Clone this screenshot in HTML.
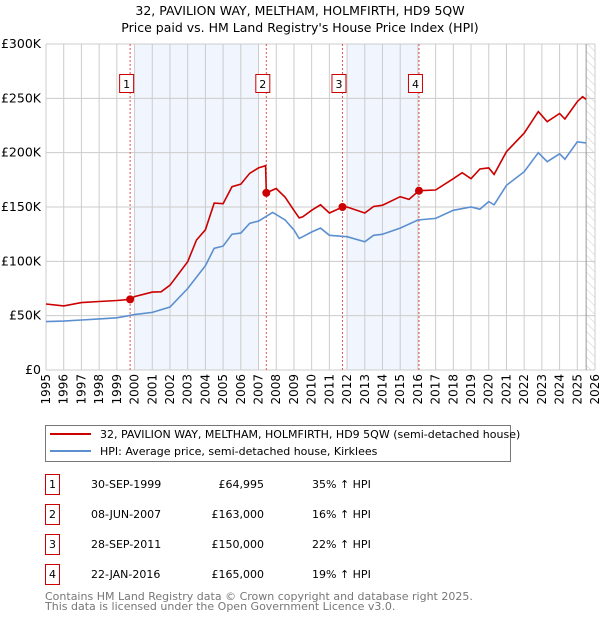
<!DOCTYPE html>
<html><head><meta charset="utf-8"><style>
body{margin:0;background:#fff;font-family:"DejaVu Sans","Liberation Sans",sans-serif;}
svg text{font-family:"DejaVu Sans","Liberation Sans",sans-serif;}
</style></head><body>
<svg id="chart" width="600" height="620" xmlns="http://www.w3.org/2000/svg">
<defs><pattern id="hatch" width="6" height="6" patternUnits="userSpaceOnUse" patternTransform="rotate(-45)"><line x1="0" y1="0" x2="0" y2="6" stroke="#ccc" stroke-width="1"/></pattern></defs>
<text x="300" y="15" text-anchor="middle" font-size="12.5">32, PAVILION WAY, MELTHAM, HOLMFIRTH, HD9 5QW</text>
<text x="300" y="32" text-anchor="middle" font-size="12.5">Price paid vs. HM Land Registry's House Price Index (HPI)</text>
<g id="plot"></g>
<g>
<rect x="45.5" y="425.5" width="465" height="36" fill="#fff" stroke="#777"/>
<line x1="50" y1="434" x2="91" y2="434" stroke="#cc0000" stroke-width="2"/>
<text x="100" y="438" font-size="11">32, PAVILION WAY, MELTHAM, HOLMFIRTH, HD9 5QW (semi-detached house)</text>
<line x1="50" y1="451" x2="91" y2="451" stroke="#5b8fd0" stroke-width="2"/>
<text x="100" y="455" font-size="11">HPI: Average price, semi-detached house, Kirklees</text>
</g>
<g id="table"></g>
<text x="45" y="600" font-size="11" fill="#777">Contains HM Land Registry data © Crown copyright and database right 2025.</text>
<text x="45" y="610" font-size="11" fill="#777">This data is licensed under the Open Government Licence v3.0.</text>
</svg>
<script>
const yearTicks=[1995,1996,1997,1998,1999,2000,2001,2002,2003,2004,2005,2006,2007,2008,2009,2010,2011,2012,2013,2014,2015,2016,2017,2018,2019,2020,2021,2022,2023,2024,2025,2026];
const valueTicks=[0,50000,100000,150000,200000,250000,300000];
const valueTickLabels=["£0","£50K","£100K","£150K","£200K","£250K","£300K"];
const hpiDates=[1995,1996,1997,1998,1999,2000,2001,2002,2003,2004,2004.5,2005,2005.5,2006,2006.5,2007,2007.8,2008.5,2009,2009.3,2009.5,2010,2010.5,2011,2012,2013,2013.5,2014,2015,2016,2017,2018,2019,2019.5,2020,2020.3,2021,2022,2022.8,2023.3,2024,2024.3,2025,2025.5];
const hpiValues=[44500,45000,46000,47000,48000,51000,53000,58000,75000,96000,112000,114000,125000,126000,135000,137000,145000,138000,129000,121000,122700,127000,130600,124000,122700,118000,124000,125000,130600,138000,139500,147000,150000,148000,155000,152000,170000,182500,200000,191700,199000,194000,210000,209000];
const redDates=[1995,1996,1997,1998,1999,1999.75,2000,2001,2001.5,2002,2003,2003.5,2004,2004.5,2005,2005.5,2006,2006.5,2007,2007.4,2007.44,2008,2008.5,2009,2009.3,2009.5,2010,2010.5,2011,2011.74,2012,2013,2013.5,2014,2015,2015.5,2016.06,2017,2018,2018.5,2019,2019.5,2020,2020.3,2021,2022,2022.8,2023.3,2024,2024.3,2025,2025.3,2025.5];
const redValues=[60700,59000,62000,63000,64000,64995,67500,71700,72000,78000,99700,119600,129000,153600,153000,168700,171000,181000,186000,188000,163000,167000,159000,147000,140000,141000,147000,152000,144500,150000,150000,144500,150500,151700,159500,157000,165000,165600,176000,181600,176000,185000,186000,180000,201000,218000,237800,228500,236000,231000,247000,251500,249000];
const saleDates=[1999.75,2007.44,2011.74,2016.06];
const saleValues=[64995,163000,150000,165000];
const saleLabels=["1","2","3","4"];
const saleDateText=["30-SEP-1999","08-JUN-2007","28-SEP-2011","22-JAN-2016"];
const salePriceText=["£64,995","£163,000","£150,000","£165,000"];
const saleHpiText=["35% ↑ HPI","16% ↑ HPI","22% ↑ HPI","19% ↑ HPI"];
const shadeSpans=[[2000,2007],[2012,2016]];
const hatchStart=2025.5;

const X0=46,X1=595,Y0=370,Y1=44;
const xs=d=>X0+(d-1995)/31*(X1-X0);
const ys=v=>Y0-v/300000*(Y0-Y1);
const NS="http://www.w3.org/2000/svg";
const plot=document.getElementById('plot');
function mk(tag,attrs,parent){const e=document.createElementNS(NS,tag);for(const k in attrs)e.setAttribute(k,attrs[k]);(parent||plot).appendChild(e);return e;}

shadeSpans.forEach((s,i)=>{const r=mk('rect',{x:xs(s[0]),y:Y1,width:xs(s[1])-xs(s[0]),height:Y0-Y1,fill:'#eef3fc',opacity:'0.8'});

});
const h=mk('rect',{x:xs(hatchStart),y:Y1,width:X1-xs(hatchStart),height:Y0-Y1,fill:'url(#hatch)'});


yearTicks.forEach(y=>{const l=mk('line',{x1:xs(y),x2:xs(y),y1:Y1,y2:Y0,stroke:'#ccc'});


const tx=xs(y)+4,ty=374;
const t=mk('text',{x:tx,y:ty,'text-anchor':'end','font-size':'12',transform:'rotate(-90 '+tx+' '+ty+')'});t.textContent=y;

});
valueTicks.forEach((v,i)=>{const l=mk('line',{x1:X0,x2:X1,y1:ys(v),y2:ys(v),stroke:'#ccc'});


const t=mk('text',{x:41,y:ys(v)+4,'text-anchor':'end','font-size':'12.5'});t.textContent=valueTickLabels[i];

});
const ln=mk('line',{x1:xs(hatchStart),x2:xs(hatchStart),y1:Y1,y2:Y0,stroke:'#999'});


saleDates.forEach((d,i)=>{const l=mk('line',{x1:xs(d),x2:xs(d),y1:Y1,y2:Y0,stroke:'#e05050','stroke-dasharray':'2,2'});

});
function path(dates,vals,color,name){let d='';dates.forEach((t,i)=>{d+=(i?'L':'M')+xs(t).toFixed(1)+','+ys(vals[i]).toFixed(1);});
const p=mk('path',{d:d,fill:'none',stroke:color,'stroke-width':'1.6'});

}
path(hpiDates,hpiValues,'#5b8fd0','hpi-line');
path(redDates,redValues,'#cc0000','price-paid-line');
saleDates.forEach((d,i)=>{const c=mk('circle',{cx:xs(d),cy:ys(saleValues[i]),r:4,fill:'#cc0000'});


const g=mk('g',{});


mk('rect',{x:xs(d)-10.5,y:74.5,width:14,height:18,fill:'#fff',stroke:'#cc0000'},g);
const t=mk('text',{x:xs(d)-3.5,y:88,'text-anchor':'middle','font-size':'11'},g);t.textContent=saleLabels[i];});

const tb=document.getElementById('table');
saleDates.forEach((d,i)=>{const y=483+i*30;
const g=mk('g',{},tb);


mk('rect',{x:45.5,y:y-8.5,width:14,height:20,fill:'#fff',stroke:'#cc0000'},g);
const a=mk('text',{x:52.5,y:y+5,'text-anchor':'middle','font-size':'11'},g);a.textContent=saleLabels[i];
const b=mk('text',{x:91,y:y+5,'font-size':'11'},g);b.textContent=saleDateText[i];
const c=mk('text',{x:264,y:y+5,'text-anchor':'end','font-size':'11'},g);c.textContent=salePriceText[i];
const e=mk('text',{x:312,y:y+5,'font-size':'11'},g);e.textContent=saleHpiText[i];});
</script>
</body></html>
